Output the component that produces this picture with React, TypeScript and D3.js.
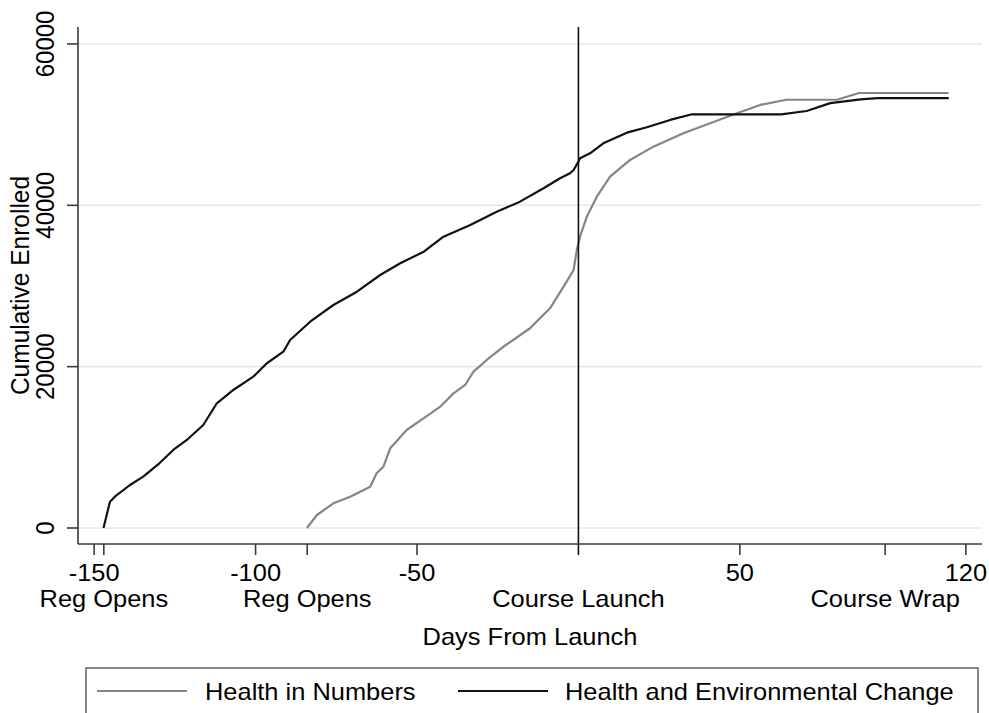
import React from "react";
import * as d3 from "d3";

// Health and Environmental Change (black)
const hecDays = [-147.1, -145.1, -143.6, -138.9, -134.8, -129.8, -125.5, -121.3, -116.2, -112.0, -106.9, -100.7, -96.5, -91.4, -89.3, -83.1, -75.9, -68.6, -61.4, -55.2, -47.9, -41.8, -33.5, -25.3, -18.1, -10.8, -5.7, -2.6, -1.5, 0, 0.5, 3.6, 7.7, 15.0, 21.2, 28.4, 34.9, 62.8, 70.7, 78.0, 87.4, 92.7, 114.7];
const hecEnrolled = [0, 3260, 3880, 5330, 6360, 8020, 9670, 10910, 12770, 15460, 17110, 18760, 20420, 21850, 23300, 25570, 27640, 29290, 31360, 32810, 34250, 36110, 37560, 39210, 40450, 42110, 43350, 43970, 44380, 45410, 45830, 46450, 47690, 49000, 49670, 50580, 51260, 51260, 51690, 52660, 53120, 53290, 53290];

// Health in Numbers (gray)
const hinDays = [-84.1, -81.0, -75.9, -70.7, -64.5, -62.5, -60.4, -58.3, -53.2, -48.0, -42.8, -38.7, -35.1, -32.5, -28.4, -23.2, -15.0, -8.8, -4.6, -1.5, -0.5, 0.5, 2.6, 5.7, 9.8, 16.0, 23.2, 32.5, 40.8, 49.1, 56.3, 64.4, 80.1, 86.9, 114.7];
const hinEnrolled = [0, 1610, 3060, 3880, 5120, 6780, 7600, 9880, 12150, 13600, 15040, 16700, 17730, 19380, 20830, 22470, 24760, 27230, 29910, 31980, 34460, 36110, 38590, 41070, 43550, 45620, 47270, 48930, 50170, 51410, 52440, 53080, 53080, 53920, 53920];

const yTicks = [0, 20000, 40000, 60000];
const xNumTicks = [-150, -100, -50, 50, 120];
const xTextTicks = [-147, -84, 0, 95];
const xTextLabels = ["Reg Opens", "Reg Opens", "Course Launch", "Course Wrap"];
const seriesNames = ["Health in Numbers", "Health and Environmental Change"];

const W = 989;
const H = 713;
const FONT = "'Liberation Sans', Arial, Helvetica, sans-serif";
const SX = 1.06;

function HText({ x, y, anchor = "middle", children }: { x: number; y: number; anchor?: string; children: React.ReactNode }) {
  return (
    <text transform={`translate(${x},${y}) scale(${SX},1)`} textAnchor={anchor} fontSize={24} fill="#000">
      {children}
    </text>
  );
}

export default function App() {
  const left = 78, right = 982, top = 27, bottom = 544;
  const x = d3.scaleLinear().domain([-155, 125]).range([left, right]);
  const y = d3.scaleLinear().domain([-1983, 62100]).range([bottom, top]);

  const line = d3
    .line<[number, number]>()
    .x((d) => x(d[0]))
    .y((d) => y(d[1]));

  const hec: [number, number][] = hecDays.map((d, i) => [d, hecEnrolled[i]]);
  const hin: [number, number][] = hinDays.map((d, i) => [d, hinEnrolled[i]]);

  const axisColor = "#3a3a3a";
  const gridColor = "#e2eaed";
  const tickLen = 11;

  const allXTicks = [...xNumTicks, ...xTextTicks];
  const midX = (left + right) / 2;
  const midY = (top + bottom) / 2;

  return (
    <svg
      width={W}
      height={H}
      style={{ position: "absolute", left: 0, top: 0, background: "#fff" }}
      fontFamily={FONT}
    >
      <rect x={0} y={0} width={W} height={H} fill="#fff" />
      {/* gridlines */}
      {yTicks.map((t) => (
        <line key={"g" + t} x1={left} x2={right} y1={y(t)} y2={y(t)} stroke={gridColor} strokeWidth={1.6} />
      ))}
      {/* series */}
      <path d={line(hin) || ""} fill="none" stroke="#858585" strokeWidth={2.2} strokeLinejoin="round" />
      <path d={line(hec) || ""} fill="none" stroke="#111" strokeWidth={2.2} strokeLinejoin="round" />
      {/* launch line */}
      <line x1={x(0)} x2={x(0)} y1={top} y2={bottom} stroke="#111" strokeWidth={1.6} />
      {/* axes */}
      <line x1={left} x2={left} y1={top} y2={bottom} stroke={axisColor} strokeWidth={1.6} />
      <line x1={left} x2={right} y1={bottom} y2={bottom} stroke={axisColor} strokeWidth={1.6} />
      {yTicks.map((t) => (
        <g key={"yt" + t}>
          <line x1={left - tickLen} x2={left} y1={y(t)} y2={y(t)} stroke={axisColor} strokeWidth={1.6} />
          <text
            transform={`translate(54,${y(t)}) scale(${SX},1) rotate(-90)`}
            textAnchor="middle"
            fontSize={24}
            fill="#000"
          >
            {t}
          </text>
        </g>
      ))}
      {allXTicks.map((t, i) => (
        <line
          key={"xt" + i}
          x1={x(t)}
          x2={x(t)}
          y1={bottom}
          y2={bottom + tickLen}
          stroke={t === 0 ? "#111" : axisColor}
          strokeWidth={1.6}
        />
      ))}
      {xNumTicks.map((t) => (
        <HText key={"xn" + t} x={x(t)} y={580.5}>
          {t}
        </HText>
      ))}
      {xTextTicks.map((t, i) => (
        <HText key={"xl" + i} x={x(t)} y={606.5}>
          {xTextLabels[i]}
        </HText>
      ))}
      {/* axis titles */}
      <HText x={midX} y={645}>
        Days From Launch
      </HText>
      <text transform={`translate(29,${midY}) scale(${SX},1) rotate(-90)`} textAnchor="middle" fontSize={24.5} fill="#000">
        Cumulative Enrolled
      </text>
      {/* legend */}
      <rect x={86} y={668} width={892} height={60} fill="#fff" stroke="#555" strokeWidth={1.4} />
      <line x1={97} x2={187} y1={691} y2={691} stroke="#858585" strokeWidth={2.2} />
      <HText x={205} y={700} anchor="start">
        {seriesNames[0]}
      </HText>
      <line x1={458} x2={548} y1={691} y2={691} stroke="#111" strokeWidth={2.2} />
      <HText x={565} y={700} anchor="start">
        {seriesNames[1]}
      </HText>
    </svg>
  );
}
